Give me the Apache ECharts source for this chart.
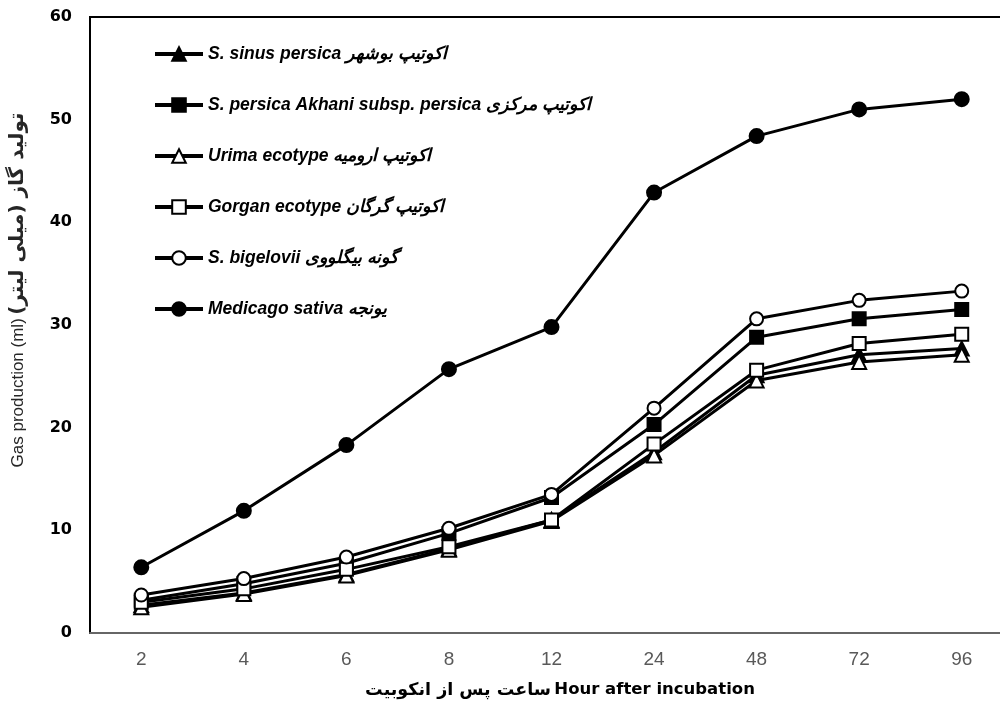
<!DOCTYPE html>
<html>
<head>
<meta charset="utf-8">
<script src="https://cdn.jsdelivr.net/npm/echarts@6/dist/echarts.min.js"></script>
<style>
html,body{margin:0;padding:0;background:#fff;overflow:hidden;width:1000px;height:706px;}
#chart{width:1013px;height:706px;}
</style>
</head>
<body>
<div id="chart"></div>
<script>
const categories = ['2', '4', '6', '8', '12', '24', '48', '72', '96'];

const seriesNames = [
  'S. sinus persica اکوتیپ بوشهر',
  'S. persica Akhani subsp. persica اکوتیپ مرکزی',
  'Urima ecotype اکوتیپ ارومیه',
  'Gorgan ecotype اکوتیپ گرگان',
  'S. bigelovii گونه بیگلووی',
  'Medicago sativa یونجه'
];

const sinusPersica   = [2.7, 3.9, 5.7, 8.2, 11.0, 17.6, 25.1, 27.1, 27.7];
const persicaAkhani  = [3.2, 4.8, 6.8, 9.7, 13.2, 20.3, 28.8, 30.6, 31.5];
const urimaEcotype   = [2.5, 3.8, 5.6, 8.1, 10.9, 17.3, 24.6, 26.4, 27.1];
const gorganEcotype  = [3.0, 4.3, 6.2, 8.4, 11.0, 18.4, 25.6, 28.2, 29.1];
const bigelovii      = [3.7, 5.3, 7.4, 10.2, 13.5, 21.9, 30.6, 32.4, 33.3];
const medicagoSativa = [6.4, 11.9, 18.3, 25.7, 29.8, 42.9, 48.4, 51.0, 52.0];

const yTicks = [0, 10, 20, 30, 40, 50, 60];

const xTitleFa = 'ساعت پس از انکوبیت';
const xTitleEn = 'Hour after incubation';
const yTitleEn = 'Gas production (ml)';
const yTitleFa = 'تولید گاز (میلی لیتر)\u200F';

const seriesData = [sinusPersica, persicaAkhani, urimaEcotype, gorganEcotype, bigelovii, medicagoSativa];
const symbols = ['triangle', 'rect', 'emptyTriangle', 'emptyRect', 'emptyCircle', 'circle'];
const symbolSizes = [14, 13, 14, 13, 13, 14];

const chart = echarts.init(document.getElementById('chart'), null, {renderer: 'canvas'});

const series = seriesNames.map((name, i) => ({
  name: name,
  type: 'line',
  data: seriesData[i],
  symbol: symbols[i],
  symbolSize: symbolSizes[i],
  showAllSymbol: true,
  lineStyle: {color: '#000', width: 3},
  itemStyle: {color: '#000', borderColor: '#000', borderWidth: 2},
  emphasis: {disabled: true},
  z: 2 + i
}));

chart.setOption({
  animation: false,
  backgroundColor: '#fff',
  grid: {
    left: 90, top: 17, right: 0, bottom: 73,
    show: true, borderColor: '#000', borderWidth: 2, backgroundColor: 'transparent'
  },
  legend: {
    orient: 'vertical',
    left: 148,
    top: 40,
    itemWidth: 48,
    itemHeight: 17,
    itemGap: 33,
    data: seriesNames,
    selectedMode: false,
    lineStyle: {width: 4},
    textStyle: {
      fontFamily: '"Liberation Sans", "DejaVu Sans", sans-serif',
      fontWeight: 'bold',
      fontStyle: 'italic',
      fontSize: 17.5,
      color: '#000'
    }
  },
  xAxis: {
    type: 'category',
    data: categories,
    boundaryGap: true,
    axisLine: {show: true, lineStyle: {color: '#666', width: 2}},
    axisTick: {show: false},
    splitLine: {show: false},
    axisLabel: {
      color: '#595959',
      fontSize: 19,
      fontFamily: '"Liberation Sans", Arial, sans-serif',
      margin: 17
    }
  },
  yAxis: {
    type: 'value',
    min: yTicks[0],
    max: yTicks[yTicks.length - 1],
    interval: 10,
    axisLine: {show: true, lineStyle: {color: '#000', width: 2}},
    axisTick: {show: false},
    splitLine: {show: false},
    axisLabel: {
      color: '#000',
      fontWeight: 'bold',
      fontSize: 16,
      fontFamily: '"DejaVu Sans", sans-serif',
      margin: 18
    }
  },
  graphic: [
    {
      type: 'text',
      x: 18, y: 290,
      rotation: Math.PI / 2,
      style: {
        text: '{en|' + yTitleEn + '} {fa|' + yTitleFa + '}',
        align: 'center',
        verticalAlign: 'middle',
        rich: {
          en: {fontSize: 17, fontFamily: '"Liberation Sans", sans-serif', fill: '#262626'},
          fa: {fontSize: 20, fontWeight: 'bold', fontFamily: '"DejaVu Sans", sans-serif', fill: '#262626'}
        }
      }
    },
    {
      type: 'text',
      x: 560, y: 690,
      style: {
        text: '{fa|' + xTitleFa + '} {en|' + xTitleEn + '}',
        align: 'center',
        verticalAlign: 'middle',
        rich: {
          fa: {fontSize: 17.5, fontWeight: 'bold', fontFamily: '"DejaVu Sans", sans-serif', fill: '#000'},
          en: {fontSize: 16.5, fontWeight: 'bold', fontFamily: '"DejaVu Sans", sans-serif', fill: '#000'}
        }
      }
    }
  ],
  series: series
});
</script>
</body>
</html>
